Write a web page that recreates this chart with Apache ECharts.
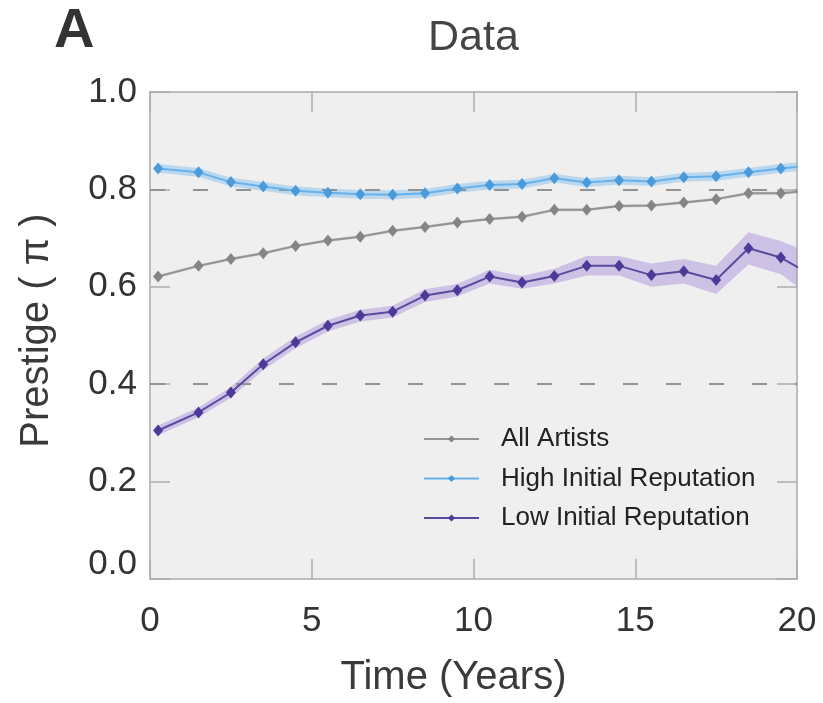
<!DOCTYPE html>
<html>
<head>
<meta charset="utf-8">
<script src="https://cdn.jsdelivr.net/npm/echarts@6/dist/echarts.min.js"></script>
<style>html,body{margin:0;padding:0;background:#fff;}#c{width:823px;height:703px;}</style>
</head>
<body>
<div id="c"></div>
<script>
// ---- data ----
const years = [0.25, 1.5, 2.5, 3.5, 4.5, 5.5, 6.5, 7.5, 8.5, 9.5, 10.5, 11.5, 12.5, 13.5, 14.5, 15.5, 16.5, 17.5, 18.5, 19.5, 20.5];
const allArtists = [0.621, 0.643, 0.657, 0.669, 0.684, 0.695, 0.703, 0.715, 0.723, 0.732, 0.739, 0.744, 0.758, 0.758, 0.766, 0.767, 0.773, 0.780, 0.792, 0.792, 0.798];
const highRep = [0.843, 0.835, 0.815, 0.806, 0.797, 0.793, 0.790, 0.789, 0.792, 0.802, 0.809, 0.811, 0.823, 0.814, 0.819, 0.816, 0.825, 0.827, 0.835, 0.843, 0.850];
const lowRep = [0.305, 0.342, 0.383, 0.441, 0.486, 0.520, 0.541, 0.549, 0.582, 0.593, 0.621, 0.609, 0.622, 0.643, 0.643, 0.624, 0.632, 0.614, 0.679, 0.660, 0.622];
const allErr = [0.003, 0.003, 0.003, 0.003, 0.003, 0.003, 0.003, 0.003, 0.003, 0.003, 0.003, 0.003, 0.003, 0.003, 0.003, 0.003, 0.003, 0.003, 0.003, 0.003, 0.003];
const highErr = [0.009, 0.009, 0.009, 0.009, 0.009, 0.009, 0.009, 0.009, 0.009, 0.009, 0.009, 0.009, 0.009, 0.009, 0.009, 0.009, 0.009, 0.009, 0.009, 0.009, 0.009];
const lowErr = [0.010, 0.010, 0.011, 0.012, 0.012, 0.012, 0.012, 0.012, 0.013, 0.013, 0.014, 0.013, 0.015, 0.020, 0.020, 0.024, 0.025, 0.029, 0.033, 0.034, 0.045];
const refLines = [0.8, 0.4];
const seriesNames = ['All Artists', 'High Initial Reputation', 'Low Initial Reputation'];
const titleText = 'Data';
const panelLabel = 'A';
const xName = 'Time (Years)';
const yName = 'Prestige ( π )';

const FONT = '"Liberation Sans", Arial, sans-serif';
const colors = {
  all: { line: '#939393', sym: '#858585', band: 'rgba(140,140,140,0.3)' },
  high: { line: '#66b2ec', sym: '#4b9bdb', band: 'rgba(100,175,235,0.38)' },
  low: { line: '#5a4a9e', sym: '#4d3a98', band: 'rgba(150,120,215,0.38)' }
};

function pairs(vals) { return years.map((x, i) => [x, vals[i]]); }

function band(name, vals, errs, fill) {
  const data = years.map((x, i) => [x, vals[i] - errs[i], vals[i] + errs[i]]);
  return {
    type: 'custom', name: name, data: data, silent: true, z: 1,
    encode: { x: 0, y: [1, 2] },
    renderItem: function (params, api) {
      if (params.dataIndex !== 0) return null;
      const up = data.map(d => api.coord([d[0], d[2]]));
      const lo = data.map(d => api.coord([d[0], d[1]])).reverse();
      const cs = params.coordSys;
      return {
        type: 'polygon',
        shape: { points: up.concat(lo) },
        style: { fill: fill },
        clipPath: { type: 'rect', shape: { x: cs.x, y: cs.y, width: cs.width, height: cs.height } }
      };
    }
  };
}

function line(name, vals, c, extra) {
  return Object.assign({
    type: 'line', name: name, data: pairs(vals), z: 3,
    symbol: 'diamond', symbolSize: [10, 12], clip: true,
    lineStyle: { color: c.line, width: 2 },
    itemStyle: { color: c.sym },
    emphasis: { disabled: true }
  }, extra || {});
}

function tick() { return { show: true, inside: true, length: 20, lineStyle: { color: '#adadad', width: 1.5 } }; }

const chart = echarts.init(document.getElementById('c'), null, { renderer: 'canvas' });
chart.setOption({
  animation: false,
  backgroundColor: '#ffffff',
  title: {
    text: titleText, left: 423, top: 12,
    textStyle: { fontFamily: FONT, fontSize: 43, fontWeight: 'normal', color: '#454545' }
  },
  graphic: [{
    type: 'text', left: 54, top: 4,
    style: { text: panelLabel, font: 'bold 56px "Liberation Sans Narrow", "Liberation Sans", sans-serif', fill: '#333' }
  }],
  grid: {
    left: 150, right: 26, top: 92, bottom: 124,
    containLabel: false, outerBoundsMode: 'none',
    show: true, backgroundColor: '#efefef', borderColor: '#bdbdbd', borderWidth: 2
  },
  legend: {
    orient: 'vertical', left: 423, top: 426, padding: 0, itemWidth: 55, itemHeight: 9, itemGap: 13.5,
    data: seriesNames, selectedMode: false,
    textStyle: { fontFamily: FONT, fontSize: 26, color: '#222', padding: [0, 0, 0, 17] }
  },
  xAxis: [{
    type: 'value', min: 0, max: 20, interval: 5, position: 'bottom',
    name: xName, nameLocation: 'middle', nameGap: 79,
    nameTextStyle: { fontFamily: FONT, fontSize: 40, color: '#3a3a3a', padding: [0, 40, 0, 0] },
    axisLine: { show: false }, splitLine: { show: false }, axisTick: tick(),
    axisLabel: { fontFamily: FONT, fontSize: 35, color: '#333', margin: 25 }
  }, {
    type: 'value', min: 0, max: 20, interval: 5, position: 'top',
    axisLine: { show: false, onZero: false }, splitLine: { show: false }, axisTick: tick(),
    axisLabel: { show: false }
  }],
  yAxis: [{
    type: 'value', min: 0, max: 1, interval: 0.2, position: 'left',
    name: yName, nameLocation: 'middle', nameGap: 93, nameRotate: 90,
    nameTextStyle: { fontFamily: FONT, fontSize: 40, color: '#3a3a3a', padding: [0, 0, 0, 10] },
    axisLine: { show: false }, splitLine: { show: false }, axisTick: tick(),
    axisLabel: {
      fontFamily: FONT, fontSize: 35, color: '#333', margin: 13,
      formatter: function (v) { return v === 0 ? '{lo|0.0}' : v.toFixed(1); },
      rich: { lo: { fontFamily: FONT, fontSize: 35, color: '#333', padding: [0, 0, 30, 0] } }
    }
  }, {
    type: 'value', min: 0, max: 1, interval: 0.2, position: 'right',
    axisLine: { show: false, onZero: false }, splitLine: { show: false }, axisTick: tick(),
    axisLabel: { show: false }
  }],
  series: [
    band('All band', allArtists, allErr, colors.all.band),
    band('High band', highRep, highErr, colors.high.band),
    band('Low band', lowRep, lowErr, colors.low.band),
    line(seriesNames[0], allArtists, colors.all, {
      markLine: {
        silent: true, symbol: 'none', label: { show: false }, z: 2,
        lineStyle: { type: [15, 28], color: '#929292', width: 2 },
        data: refLines.map(v => ({ yAxis: v }))
      }
    }),
    line(seriesNames[1], highRep, colors.high),
    line(seriesNames[2], lowRep, colors.low)
  ]
});
</script>
</body>
</html>
